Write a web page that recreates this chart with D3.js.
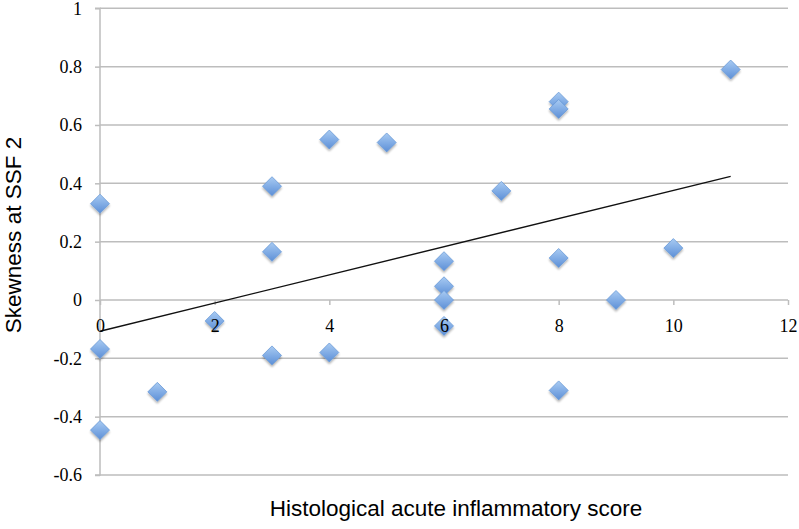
<!DOCTYPE html>
<html>
<head>
<meta charset="utf-8">
<script src="https://cdn.jsdelivr.net/npm/d3@7/dist/d3.min.js"></script>
<style>
  html, body { margin: 0; padding: 0; background: #fff; }
  svg { display: block; }
</style>
</head>
<body>
<svg id="chart" width="799" height="529"></svg>
<script>
// ---- data ----
const scoreX = [0, 0, 0, 1, 2, 3, 3, 3, 4, 4, 5, 6, 6, 6, 6, 7, 8, 8, 8, 8, 9, 10, 11];
const skewY  = [0.33, -0.168, -0.446, -0.315, -0.072, 0.39, 0.165, -0.19, 0.55, -0.18, 0.54,
                0.133, 0.047, 0.0, -0.089, 0.374, 0.68, 0.655, 0.144, -0.31, 0.0, 0.178, 0.79];
const xTicks = [0, 2, 4, 6, 8, 10, 12];
const yTicks = [-0.6, -0.4, -0.2, 0, 0.2, 0.4, 0.6, 0.8, 1];
const trendX = [0, 11];
const trendY = [-0.107, 0.424];
const xTitle = "Histological acute inflammatory score";
const yTitle = "Skewness at SSF 2";

// ---- layout ----
const svg = d3.select("#chart");
const x = d3.scaleLinear().domain([0, 12]).range([100, 788]);
const y = d3.scaleLinear().domain([-0.6, 1]).range([475, 8.3]);
const fmtY = d => String(+d.toFixed(1)); // plain hyphen-minus like the reference

const defs = svg.append("defs");
const grad = defs.append("linearGradient").attr("id", "dia")
  .attr("x1", 0).attr("y1", 0).attr("x2", 0).attr("y2", 1);
grad.append("stop").attr("offset", "0%").attr("stop-color", "#a9cbf2");
grad.append("stop").attr("offset", "55%").attr("stop-color", "#7eaae4");
grad.append("stop").attr("offset", "100%").attr("stop-color", "#5d8fd6");
const filt = defs.append("filter").attr("id", "sh").attr("x", "-50%").attr("y", "-50%").attr("width", "200%").attr("height", "200%");
filt.append("feGaussianBlur").attr("in", "SourceAlpha").attr("stdDeviation", 1.2).attr("result", "b");
filt.append("feOffset").attr("in", "b").attr("dx", 0).attr("dy", 1.5).attr("result", "o");
filt.append("feComponentTransfer").attr("in", "o").attr("result", "o2")
  .append("feFuncA").attr("type", "linear").attr("slope", 0.3);
const fm = filt.append("feMerge");
fm.append("feMergeNode").attr("in", "o2");
fm.append("feMergeNode").attr("in", "SourceGraphic");

// gridlines
svg.append("g").selectAll("line").data(yTicks).join("line")
  .attr("x1", x(0)).attr("x2", x(12))
  .attr("y1", d => y(d)).attr("y2", d => y(d))
  .attr("stroke", "#bdbdbd").attr("stroke-width", 1.5);

// y axis
const yAxis = d3.axisLeft(y).tickValues(yTicks).tickSize(5).tickPadding(13).tickFormat(fmtY);
const gy = svg.append("g").attr("transform", `translate(${x(0)},0)`).call(yAxis);
gy.select(".domain").attr("stroke", "#bdbdbd").attr("stroke-width", 1.5).attr("d", `M-5,${y(1)}H0V${y(-0.6)}H-5`);
gy.selectAll(".tick line").attr("stroke", "#bdbdbd").attr("stroke-width", 1.5);
gy.selectAll(".tick text").attr("fill", "#000")
  .style("font-family", "'Liberation Serif', 'DejaVu Serif', serif").style("font-size", "18px");

// x axis ticks on the zero line (labels drawn later, above the marks)
const xAxis = d3.axisBottom(x).tickValues(xTicks).tickSize(5).tickPadding(14).tickFormat(d3.format("d"));
const gx = svg.append("g").attr("transform", `translate(0,${y(0)})`).call(xAxis);
gx.select(".domain").attr("stroke", "none");
gx.selectAll(".tick line").attr("stroke", "#bdbdbd").attr("stroke-width", 1.5);
gx.selectAll(".tick text").remove();

// trend line
svg.append("line")
  .attr("x1", x(trendX[0])).attr("y1", y(trendY[0]))
  .attr("x2", x(trendX[1])).attr("y2", y(trendY[1]))
  .attr("stroke", "#111").attr("stroke-width", 1.4);

// points
const pts = scoreX.map((v, i) => ({ x: v, y: skewY[i] }));
const r = 9.5;
svg.append("g").selectAll("path").data(pts).join("path")
  .attr("d", `M0,${-r}L${r},0L0,${r}L${-r},0Z`)
  .attr("transform", d => `translate(${x(d.x)},${y(d.y)})`)
  .attr("fill", "url(#dia)")
  .attr("stroke", "#6a9ad8").attr("stroke-width", 0.8)
  .attr("filter", "url(#sh)");

// x tick labels on top of everything
const gxl = svg.append("g").attr("transform", `translate(0,${y(0)})`)
  .call(d3.axisBottom(x).tickValues(xTicks).tickSize(0).tickPadding(19).tickFormat(d3.format("d")));
gxl.select(".domain").remove();
gxl.selectAll(".tick line").remove();
gxl.selectAll(".tick text").attr("fill", "#000")
  .style("font-family", "'Liberation Serif', 'DejaVu Serif', serif").style("font-size", "18px");

// titles
svg.append("text").text(xTitle)
  .attr("x", 456).attr("y", 516).attr("text-anchor", "middle")
  .style("font-family", "'Liberation Sans', Arial, sans-serif").style("font-size", "22.5px").attr("fill", "#000");
svg.append("text").text(yTitle)
  .attr("transform", "translate(21,235) rotate(-90)").attr("text-anchor", "middle")
  .style("font-family", "'Liberation Sans', Arial, sans-serif").style("font-size", "22.5px").attr("fill", "#000");
</script>
</body>
</html>
